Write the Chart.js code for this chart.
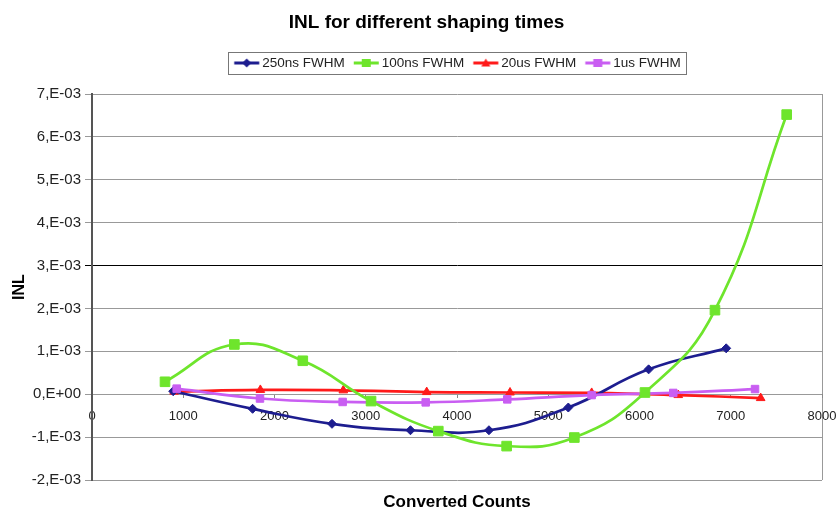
<!DOCTYPE html>
<html>
<head>
<meta charset="utf-8">
<script src="https://cdn.jsdelivr.net/npm/chart.js@4/dist/chart.umd.min.js"></script>
<style>
  html, body { margin: 0; padding: 0; background: #fff; }
  #wrap { width: 840px; height: 511px; }
</style>
</head>
<body>
<div id="wrap"><canvas id="c" width="840" height="511"></canvas></div>
<script>
// INL measurements per shaping time: converted counts (x) and INL (y)
const seriesNames = ['250ns FWHM', '100ns FWHM', '20us FWHM', '1us FWHM'];

const counts250ns = [890, 1760, 2630, 3490, 4350, 5220, 6100, 6950];
const inl250ns    = [0.07e-3, -0.34e-3, -0.69e-3, -0.84e-3, -0.84e-3, -0.31e-3, 0.58e-3, 1.07e-3];

const counts100ns = [800, 1560, 2310, 3058, 3795, 4544, 5286, 6060, 6827, 7613];
const inl100ns    = [0.29e-3, 1.16e-3, 0.78e-3, -0.16e-3, -0.86e-3, -1.21e-3, -1.01e-3, 0.04e-3, 1.96e-3, 6.52e-3];

const counts20us  = [900, 1845, 2754, 3668, 4581, 5476, 6425, 7328];
const inl20us     = [0.06e-3, 0.10e-3, 0.09e-3, 0.05e-3, 0.04e-3, 0.03e-3, -0.02e-3, -0.09e-3];

const counts1us   = [928, 1841, 2747, 3657, 4551, 5476, 6370, 7266];
const inl1us      = [0.13e-3, -0.10e-3, -0.18e-3, -0.19e-3, -0.12e-3, -0.02e-3, 0.03e-3, 0.12e-3];

// Axis ranges and tick steps
const xRange = [0, 8000];
const xStep = 1000;
const yRange = [-2e-3, 7e-3];
const yStep = 1e-3;
const highlightTick = 3e-3;

const FONT = "'Liberation Sans', Arial, sans-serif";
Chart.defaults.font.family = FONT;
Chart.defaults.color = '#222';

// order: lower numbers are painted on top
const looks = [
  { color: '#1d1d8f', pointStyle: 'rectRot',  radius: 4.5, order: 3 },
  { color: '#6ee52c', pointStyle: 'rect',     radius: 6.8, order: 1 },
  { color: '#ff1a1a', pointStyle: 'triangle', radius: 5,   order: 4 },
  { color: '#c95ef2', pointStyle: 'rect',     radius: 5.3, order: 2 }
];

const toPoints = (xs, ys) => xs.map((x, i) => ({ x, y: ys[i] }));
const seriesData = [
  toPoints(counts250ns, inl250ns),
  toPoints(counts100ns, inl100ns),
  toPoints(counts20us, inl20us),
  toPoints(counts1us, inl1us)
];

// Legend swatch: short line with the series marker in the middle.
// The canvas is wider than the legend box and the swatch sits right of
// its centre, so it hugs the label text.
const BOX_W = 22.25;
const SWATCH_W = 32;
function legendIcon(look) {
  const c = document.createElement('canvas');
  c.width = SWATCH_W; c.height = 14;
  const g = c.getContext('2d');
  const x0 = SWATCH_W / 2 - BOX_W / 2 + 1;
  const x1 = x0 + 25;
  g.strokeStyle = look.color;
  g.fillStyle = look.color;
  g.lineWidth = 3;
  g.beginPath(); g.moveTo(x0, 7); g.lineTo(x1, 7); g.stroke();
  const cx = (x0 + x1) / 2, cy = 7;
  g.beginPath();
  if (look.pointStyle === 'rectRot') {
    g.moveTo(cx, cy - 4.5); g.lineTo(cx + 4.5, cy); g.lineTo(cx, cy + 4.5); g.lineTo(cx - 4.5, cy);
  } else if (look.pointStyle === 'triangle') {
    g.moveTo(cx, cy - 4.5); g.lineTo(cx + 4.5, cy + 3.5); g.lineTo(cx - 4.5, cy + 3.5);
  } else {
    g.rect(cx - 4.5, cy - 4, 9, 8);
  }
  g.closePath(); g.fill();
  return c;
}
const legendIcons = looks.map(legendIcon);

const legendFrame = {
  id: 'legendFrame',
  afterDraw(chart) {
    const lg = chart.legend;
    if (!lg || !lg.legendHitBoxes || !lg.legendHitBoxes.length) return;
    const hb = lg.legendHitBoxes;
    const l = Math.min(...hb.map(b => b.left)) - 5;
    const r = Math.max(...hb.map(b => b.left + b.width)) + 5;
    const cy = hb[0].top + hb[0].height / 2;
    const ctx = chart.ctx;
    ctx.save();
    ctx.strokeStyle = '#777';
    ctx.lineWidth = 1;
    ctx.strokeRect(Math.round(l) + 0.5, Math.round(cy - 11) + 0.5, Math.round(r - l), 22);
    ctx.restore();
  }
};

const fmtY = v => {
  const n = Math.round(v / yStep);
  return n === 0 ? '0,E+00' : n + ',E-03';
};

new Chart(document.getElementById('c'), {
  type: 'line',
  data: {
    datasets: seriesData.map((pts, i) => ({
      label: seriesNames[i],
      data: pts,
      xAxisID: 'x',
      yAxisID: 'y',
      borderColor: looks[i].color,
      backgroundColor: looks[i].color,
      pointBackgroundColor: looks[i].color,
      pointBorderColor: looks[i].color,
      pointBorderWidth: 1,
      pointStyle: looks[i].pointStyle,
      pointRadius: looks[i].radius,
      borderWidth: 2.7,
      tension: 0.45,
      fill: false,
      order: looks[i].order
    }))
  },
  options: {
    responsive: false,
    animation: false,
    devicePixelRatio: 1,
    layout: { padding: { left: 31, right: 18, top: 0, bottom: 0 } },
    plugins: {
      title: {
        display: true,
        text: 'INL for different shaping times',
        color: '#000',
        font: { size: 19, weight: 'bold' },
        padding: { top: 11.6, bottom: 13.85 }
      },
      legend: {
        display: true,
        position: 'top',
        fullSize: false,
        labels: {
          usePointStyle: true,
          pointStyleWidth: BOX_W,
          font: { size: 13.5 },
          color: '#222',
          padding: 8,
          generateLabels: chart => chart.data.datasets.map((ds, i) => ({
            text: ds.label,
            fillStyle: ds.borderColor,
            strokeStyle: ds.borderColor,
            lineWidth: 0,
            pointStyle: legendIcons[i],
            hidden: !chart.isDatasetVisible(i),
            datasetIndex: i,
            fontColor: '#222'
          }))
        }
      },
      tooltip: { enabled: false }
    },
    scales: {
      xt: {
        type: 'linear', position: 'top', min: xRange[0], max: xRange[1],
        ticks: { display: false }, grid: { display: false }, border: { display: false },
        afterFit: s => { s.height = 14.25; }
      },
      x: {
        type: 'linear', position: { y: 0 }, min: xRange[0], max: xRange[1],
        ticks: { stepSize: xStep, callback: v => String(v), font: { size: 13 }, color: '#222', padding: 3, maxRotation: 0, autoSkip: false },
        grid: {
          drawOnChartArea: true,
          color: c => (c.tick && c.tick.value === xRange[1]) ? '#999' : 'rgba(0,0,0,0)',
          tickColor: '#888',
          tickLength: 11,
          tickBorderDash: [4, 40]
        },
        border: { display: false }
      },
      xb: {
        type: 'linear', position: 'bottom', min: xRange[0], max: xRange[1],
        ticks: { display: false }, grid: { display: false }, border: { display: false },
        title: { display: true, text: 'Converted Counts', color: '#000', font: { size: 17, weight: 'bold', lineHeight: 1 }, padding: { top: 6, bottom: 0 } }
      },
      y: {
        type: 'linear', position: 'left', min: yRange[0], max: yRange[1],
        ticks: { stepSize: yStep, callback: fmtY, font: { size: 15 }, color: '#222', padding: 4 },
        grid: {
          color: c => (c.tick && Math.round(c.tick.value / yStep) === Math.round(highlightTick / yStep)) ? '#000' : '#999',
          tickLength: 7,
          lineWidth: 1
        },
        border: { color: '#555', width: 2 },
        title: { display: true, text: 'INL', color: '#000', font: { size: 16, weight: 'bold' }, padding: { top: -20.6, bottom: 0 } },
        afterFit: s => { s.width = 61; }
      }
    }
  },
  plugins: [legendFrame]
});
</script>
</body>
</html>
